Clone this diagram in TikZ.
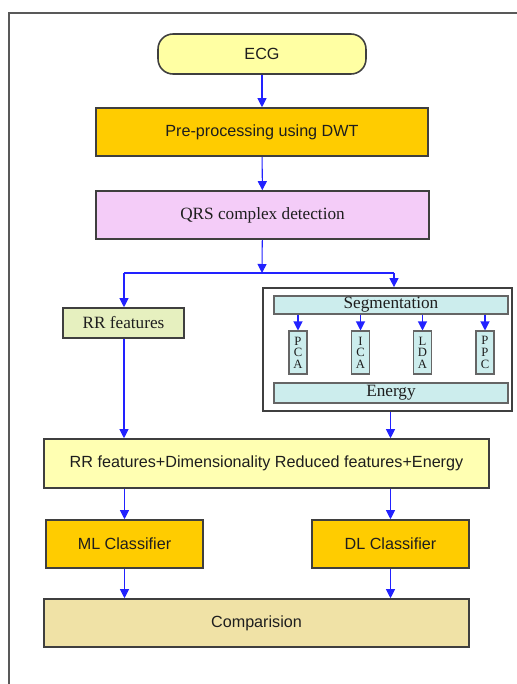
\documentclass[tikz,border=0pt]{standalone}
\usepackage{fontspec}
\setmainfont{Liberation Serif}
\setsansfont{Liberation Sans}
\usetikzlibrary{arrows.meta}
\definecolor{ecgyellow}{HTML}{FFFFA3}
\definecolor{stepgold}{HTML}{FFCC00}
\definecolor{qrspink}{HTML}{F4CCF8}
\definecolor{rrgreen}{HTML}{E6F0BF}
\definecolor{segcyan}{HTML}{CCEDED}
\definecolor{mixyellow}{HTML}{FFFFB2}
\definecolor{cmpwheat}{HTML}{F0E2A6}
\definecolor{arrblue}{HTML}{2222FF}
\definecolor{edgegray}{HTML}{3F3F3F}
\definecolor{textdark}{HTML}{1E1E1E}
\begin{document}
\begin{tikzpicture}[x=0.02cm,y=-0.02cm,
    box/.style={draw=edgegray, line width=0.9pt, text=textdark, inner sep=0pt},
    sansbox/.style={box, font=\sffamily\fontsize{9.2}{11}\selectfont},
    serifbox/.style={box, font=\fontsize{9.8}{11}\selectfont},
    smallbox/.style={draw=edgegray!80, line width=0.6pt, fill=segcyan, text=textdark, inner sep=0pt,
        minimum width=0.36cm, minimum height=0.86cm, align=center, font=\fontsize{7.2}{6.6}\selectfont},
    arr/.style={draw=arrblue, line width=0.6pt, -{Triangle[length=0.18cm,width=0.18cm]}}]

    \useasboundingbox (0,0) rectangle (517,684);

    % Frame
    \draw[gray!70!black, line width=0.8pt] (9,684) -- (9,13) -- (517,13);

    % Main flow
    \node[sansbox, fill=ecgyellow, rounded corners=0.3cm, minimum width=4.16cm, minimum height=0.8cm] (ecg) at (262,54) {ECG};
    \node[sansbox, fill=stepgold, minimum width=6.64cm, minimum height=0.96cm] (pre) at (262,132) {Pre-processing using DWT};
    \node[serifbox, fill=qrspink, minimum width=6.66cm, minimum height=0.96cm] (qrs) at (262.5,215) {QRS complex detection};

    % Split
    \coordinate (splitL) at (124,273);
    \coordinate (split) at (262,273);
    \coordinate (splitR) at (394,273);

    % Left branch
    \node[serifbox, fill=rrgreen, minimum width=2.42cm, minimum height=0.6cm] (rr) at (123.5,323) {RR features};

    % Right branch
    \node[draw=edgegray, line width=1pt, fill=white, minimum width=4.98cm, minimum height=2.46cm] (outer) at (387.5,349.5) {};
    \node[serifbox, line width=0.6pt, draw=edgegray!80, fill=segcyan, minimum width=4.68cm, minimum height=0.36cm] (seg) at (391,305) {Segmentation};
    \node[smallbox] (pca) at (298,352.5) {P\\C\\A};
    \node[smallbox] (ica) at (360.5,352.5) {I\\C\\A};
    \node[smallbox] (lda) at (422.5,352.5) {L\\D\\A};
    \node[smallbox] (ppc) at (485,352.5) {P\\P\\C};
    \node[serifbox, line width=0.6pt, draw=edgegray!80, fill=segcyan, minimum width=4.68cm, minimum height=0.4cm] (energy) at (391,393) {Energy};

    % Merge and classifiers
    \node[sansbox, fill=mixyellow, minimum width=8.9cm, minimum height=0.98cm] (mix) at (266.5,463.5) {RR features+Dimensionality Reduced features+Energy};
    \node[sansbox, fill=stepgold, minimum width=3.14cm, minimum height=0.96cm] (ml) at (124.5,544) {ML Classifier};
    \node[sansbox, fill=stepgold, minimum width=3.14cm, minimum height=0.96cm] (dl) at (390.5,544) {DL Classifier};
    \node[sansbox, fill=cmpwheat, minimum width=8.5cm, minimum height=0.96cm] (cmp) at (256.5,623) {Comparision};

    % Arrows
    \draw[arr] (ecg) -- (pre);
    \draw[arr] (pre) -- (qrs);
    \draw[arr] (qrs) -- (split);
    \draw[draw=arrblue, line width=0.6pt] (splitL) -- (splitR);
    \draw[arr] (splitL) -- (splitL |- rr.north);
    \draw[arr] (splitR) -- (splitR |- outer.north);
    \draw[arr] (pca.north |- seg.south) -- (pca);
    \draw[arr] (ica.north |- seg.south) -- (ica);
    \draw[arr] (lda.north |- seg.south) -- (lda);
    \draw[arr] (ppc.north |- seg.south) -- (ppc);
    \draw[arr] (splitL |- rr.south) -- (splitL |- mix.north);
    \draw[arr] (dl.north |- outer.south) -- (dl.north |- mix.north);
    \draw[arr] (ml.north |- mix.south) -- (ml);
    \draw[arr] (dl.north |- mix.south) -- (dl);
    \draw[arr] (ml.south) -- (ml.south |- cmp.north);
    \draw[arr] (dl.south) -- (dl.south |- cmp.north);

\end{tikzpicture}
\end{document}
